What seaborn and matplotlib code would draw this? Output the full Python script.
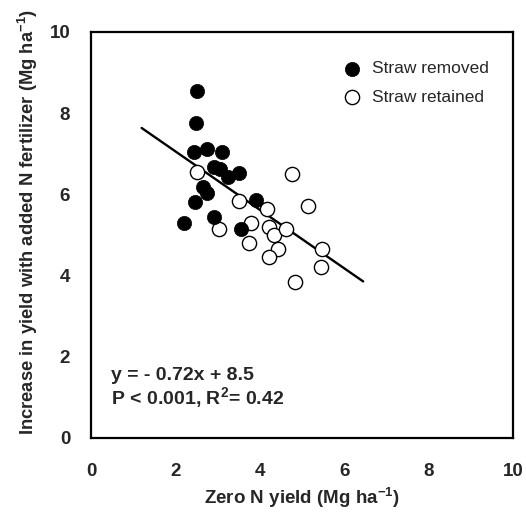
import numpy as np
import pandas as pd
import seaborn as sns
import matplotlib.pyplot as plt

# Data
removed_x = [2.52, 2.48, 2.45, 2.74, 3.11, 2.91, 3.06, 3.25, 3.51, 2.66, 2.74, 2.46, 3.90, 2.92, 2.21, 3.55]
removed_y = [8.55, 7.75, 7.05, 7.12, 7.05, 6.67, 6.63, 6.44, 6.52, 6.19, 6.03, 5.81, 5.86, 5.45, 5.29, 5.15]
retained_x = [2.50, 4.76, 3.51, 4.16, 5.15, 3.79, 3.04, 4.22, 4.34, 4.61, 3.75, 4.42, 4.22, 5.48, 5.44, 4.83]
retained_y = [6.56, 6.50, 5.84, 5.64, 5.71, 5.29, 5.15, 5.19, 5.00, 5.14, 4.80, 4.66, 4.47, 4.66, 4.20, 3.85]

slope, intercept = -0.72, 8.5
line_x = [1.2, 6.45]
ticks = [0, 2, 4, 6, 8, 10]

sns.set_style("white")
plt.rcParams['font.family'] = ['Liberation Sans', 'DejaVu Sans']
plt.rcParams['mathtext.fontset'] = 'custom'
plt.rcParams['mathtext.rm'] = 'Liberation Sans'
plt.rcParams['mathtext.bf'] = 'Liberation Sans:bold'

removed = pd.DataFrame({'x': removed_x, 'y': removed_y})
retained = pd.DataFrame({'x': retained_x, 'y': retained_y})
fit = pd.DataFrame({'x': line_x, 'y': [slope * v + intercept for v in line_x]})

fig = plt.figure(figsize=(5.26, 5.12), dpi=100)
ax = fig.add_axes([91 / 526, 1 - 438 / 512, 422 / 526, 406 / 512])

sns.lineplot(data=fit, x='x', y='y', ax=ax, color='black', linewidth=1.7, zorder=1)
sns.scatterplot(data=removed, x='x', y='y', ax=ax, color='black', edgecolor='black',
                s=105, linewidth=0.5, label='Straw removed', zorder=3)
sns.scatterplot(data=retained, x='x', y='y', ax=ax, facecolor='white', edgecolor='black',
                s=105, linewidth=1.0, label='Straw retained', zorder=2)

ax.set_xlim(0, 10)
ax.set_ylim(0, 10)
ax.set_xticks(ticks)
ax.set_yticks(ticks)
ax.tick_params(length=0, labelsize=13.5)
ax.tick_params(axis='y', pad=15)
ax.tick_params(axis='x', pad=18)
for lab in ax.get_xticklabels() + ax.get_yticklabels():
    lab.set_fontweight('bold')

for sp in ax.spines.values():
    sp.set_color('black')
    sp.set_linewidth(1.6)

ax.set_xlabel(r'Zero N yield (Mg ha$^{\mathbf{-1}}$)', fontsize=13.5, fontweight='bold', labelpad=4)
ax.set_ylabel(r'Increase in yield with added N fertilizer (Mg ha$^{\mathbf{-1}}$)',
              fontsize=13.2, fontweight='bold')
ax.yaxis.set_label_coords(-0.122, 0.532)

ax.text(0.047, 0.155, 'y = - 0.72x + 8.5', transform=ax.transAxes,
        fontsize=14, fontweight='bold', va='center', ha='left')
ax.text(0.047, 0.0985, r'P < 0.001, R$^{\mathbf{2}}$= 0.42', transform=ax.transAxes,
        fontsize=14, fontweight='bold', va='center', ha='left')

leg = ax.legend(loc='upper left', bbox_to_anchor=(0.56, 0.945), frameon=False,
                fontsize=12.5, handletextpad=0.2, labelspacing=0.75, borderaxespad=0)

fig.savefig('out.png', dpi=100)
